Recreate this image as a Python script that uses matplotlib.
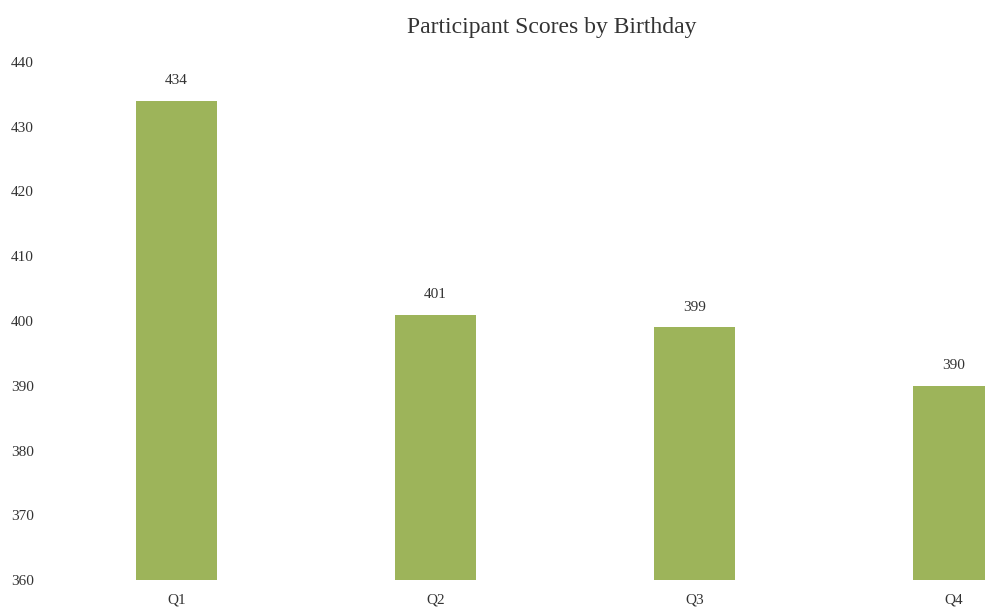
import matplotlib.pyplot as plt

# scores per birthday quarter
quarters = ["Q1", "Q2", "Q3", "Q4"]
scores = [434, 401, 399, 390]

plt.rcParams["font.family"] = ["Liberation Serif", "DejaVu Serif"]

fig = plt.figure(figsize=(9.85, 6.11), dpi=100)
ax = fig.add_axes([45 / 985, 31 / 611, 940 / 985, 518 / 611])

pos = list(range(len(quarters)))
bars = ax.bar(pos, scores, width=0.31, color="#9db45a", bottom=0)

ax.set_ylim(360, 440)
ax.set_xlim(-0.508, 3.122)
ax.set_yticks(range(360, 441, 10))
ax.set_xticks(pos)
ax.set_xticklabels(quarters)

for spine in ax.spines.values():
    spine.set_visible(False)
ax.tick_params(axis="both", length=0, labelsize=11, labelcolor="#333333")
ax.tick_params(axis="y", pad=8)
ax.tick_params(axis="x", pad=10)

# value labels on top of each bar
for p, s in zip(pos, scores):
    ax.annotate(str(s), (p, s), xytext=(0, 10), textcoords="offset points",
                ha="center", va="bottom", fontsize=11, color="#333333")

fig.text(552 / 985, 1 - 28 / 611, "Participant Scores by Birthday",
         ha="center", va="center", fontsize=17, color="#333333")

fig.savefig("out.png", dpi=100)
